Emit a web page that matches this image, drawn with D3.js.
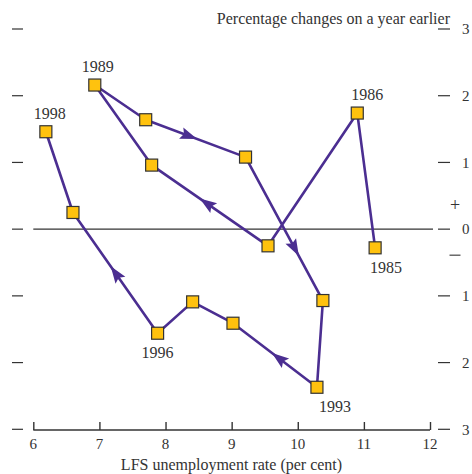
<!DOCTYPE html>
<html><head><meta charset="utf-8">
<script src="https://cdn.jsdelivr.net/npm/d3@7"></script>
<style>html,body{margin:0;padding:0;background:#fff;}svg{display:block;}</style>
</head><body>
<svg id="c" width="472" height="474"></svg>
<script>
const years = [1985,1986,1987,1988,1989,1990,1991,1992,1993,1994,1995,1996,1997,1998];
const unemployment = [11.17,10.90,9.55,7.79,6.93,7.70,9.21,10.38,10.29,9.02,8.41,7.88,6.60,6.19];
const change = [-0.28,1.74,-0.25,0.96,2.16,1.64,1.08,-1.07,-2.37,-1.41,-1.09,-1.56,0.25,1.46];
const labelledYears = [1985,1986,1989,1993,1996,1998];
const labelPos = {1985:"below",1986:"above",1989:"above",1993:"below",1996:"below",1998:"above"};
const arrowSegments = [2,5,6,8,11]; // segment index i: from point i to i+1
const arrowFractions = [0.53,0.44,0.64,0.46,0.50];
const xTicks = [6,7,8,9,10,11,12];
const yTicks = [3,2,1,0,-1,-2,-3];
const yTickLabels = ["3","2","1","0","1","2","3"];
const title = "Percentage changes on a year earlier";
const xTitle = "LFS unemployment rate (per cent)";

const svg = d3.select("#c");
const font = "'Liberation Serif','Times New Roman',serif";
const ink = "#333";
const purple = "#4B2E91";
const x = d3.scaleLinear().domain([6,12]).range([33.3,430]);
const y = d3.scaleLinear().domain([-3,3]).range([429.3,29]);

// left ticks
svg.append("g").selectAll("line").data(yTicks).join("line")
  .attr("x1",12).attr("x2",23).attr("y1",d=>y(d)).attr("y2",d=>y(d))
  .attr("stroke",ink).attr("stroke-width",1.2);
// right ticks
svg.append("g").selectAll("line").data(yTicks).join("line")
  .attr("x1",438).attr("x2",450).attr("y1",d=>y(d)).attr("y2",d=>y(d))
  .attr("stroke",ink).attr("stroke-width",1.2);
svg.append("g").selectAll("text").data(yTicks).join("text")
  .attr("x",462).attr("y",d=>y(d)).attr("dy","0.35em")
  .attr("font-family",font).attr("font-size",15).attr("fill",ink)
  .text((d,i)=>yTickLabels[i]);
// + and - signs
svg.append("text").attr("x",455).attr("y",y(0.36)).attr("dy","0.35em").attr("text-anchor","middle")
  .attr("font-family",font).attr("font-size",18).attr("fill",ink).text("+");
svg.append("line").attr("x1",449.5).attr("x2",460.5).attr("y1",y(-0.39)).attr("y2",y(-0.39))
  .attr("stroke",ink).attr("stroke-width",1.1);

// zero line
svg.append("line").attr("x1",x(6)).attr("x2",433).attr("y1",y(0)).attr("y2",y(0))
  .attr("stroke",ink).attr("stroke-width",1.2);

// x axis
const xAxis = d3.axisTop(x).tickValues(xTicks).tickSize(8).tickFormat("");
const gx = svg.append("g").attr("transform",`translate(0,${y(-3)+0.7})`).call(xAxis);
gx.select(".domain").attr("stroke",ink).attr("stroke-width",1.6).attr("d",`M${x(6)},0H${x(12)}`);
gx.selectAll(".tick line").attr("stroke",ink).attr("stroke-width",1.4);
svg.append("g").selectAll("text").data(xTicks).join("text")
  .attr("x",d=>x(d)).attr("y",449).attr("text-anchor","middle")
  .attr("font-family",font).attr("font-size",15).attr("fill",ink).text(d=>d);
svg.append("text").attr("x",231.5).attr("y",470).attr("text-anchor","middle")
  .attr("font-family",font).attr("font-size",16).attr("fill",ink).text(xTitle);
svg.append("text").attr("x",450).attr("y",24).attr("text-anchor","end")
  .attr("font-family",font).attr("font-size",16).attr("fill",ink).text(title);

// path
const pts = years.map((yr,i)=>({yr, ux:unemployment[i], cy:change[i]}));
svg.append("path").datum(pts)
  .attr("d", d3.line().x(d=>x(d.ux)).y(d=>y(d.cy)))
  .attr("fill","none").attr("stroke",purple).attr("stroke-width",2.6).attr("stroke-linejoin","round");

// arrows
arrowSegments.forEach((s,k)=>{
  const a = pts[s], b = pts[s+1], f = arrowFractions[k];
  const x0 = x(a.ux), y0 = y(a.cy), x1 = x(b.ux), y1 = y(b.cy);
  const px = x0+(x1-x0)*f, py = y0+(y1-y0)*f;
  const ang = Math.atan2(y1-y0, x1-x0)*180/Math.PI;
  svg.append("path").attr("d","M8,0L-9,-6L-6,0L-9,6Z")
    .attr("transform",`translate(${px},${py}) rotate(${ang})`)
    .attr("fill",purple);
});

// markers
svg.append("g").selectAll("rect").data(pts).join("rect")
  .attr("x",d=>x(d.ux)-6).attr("y",d=>y(d.cy)-6).attr("width",12).attr("height",12)
  .attr("fill","#FFC20E").attr("stroke","#333").attr("stroke-width",1.2);

// year labels
svg.append("g").selectAll("text").data(pts.filter(d=>labelledYears.includes(d.yr))).join("text")
  .attr("x",d=>x(d.ux)+ (d.yr===1985?11:d.yr===1993?18:d.yr===1986?10:d.yr===1998?4:d.yr===1989?3:0))
  .attr("y",d=>labelPos[d.yr]==="above"? y(d.cy)-13 : y(d.cy)+25)
  .attr("text-anchor","middle")
  .attr("font-family",font).attr("font-size",16).attr("fill",ink).text(d=>d.yr);
</script>
</body></html>
